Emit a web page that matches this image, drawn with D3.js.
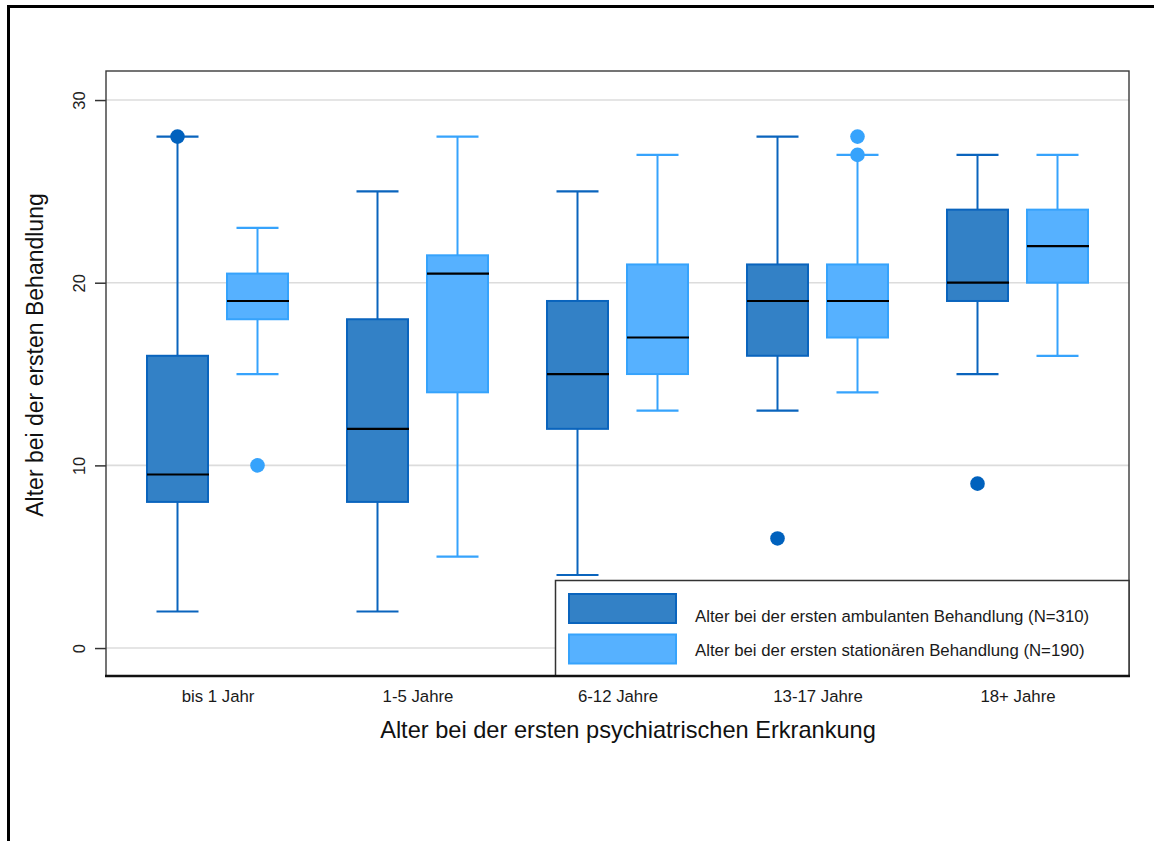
<!DOCTYPE html>
<html><head><meta charset="utf-8">
<script src="https://cdn.jsdelivr.net/npm/d3@7"></script>
<style>body{margin:0;background:#fff;}svg{display:block;font-family:"Liberation Sans",Arial,sans-serif;}</style>
</head><body>
<svg id="chart" width="1154" height="841"></svg>
<script>
const categories = ["bis 1 Jahr","1-5 Jahre","6-12 Jahre","13-17 Jahre","18+ Jahre"];
const seriesNames = ["Alter bei der ersten ambulanten Behandlung (N=310)","Alter bei der ersten stationären Behandlung (N=190)"];
// ambulant (dark)
const ambLow    = [2, 2, 4, 13, 15];
const ambQ1     = [8, 8, 12, 16, 19];
const ambMedian = [9.5, 12, 15, 19, 20];
const ambQ3     = [16, 18, 19, 21, 24];
const ambHigh   = [28, 25, 25, 28, 27];
const ambOutliers = [[28], [], [], [6], [9]];
// stationär (light)
const staLow    = [15, 5, 13, 14, 16];
const staQ1     = [18, 14, 15, 17, 20];
const staMedian = [19, 20.5, 17, 19, 22];
const staQ3     = [20.5, 21.5, 21, 21, 24];
const staHigh   = [23, 28, 27, 27, 27];
const staOutliers = [[10], [], [], [27, 28], []];
const yTicks = [0, 10, 20, 30];

const fills   = ["#3381c6", "#56b1ff"];
const strokes = ["#0a64bd", "#36a3fc"];
const dots    = ["#0061bd", "#36a3fc"];

const svg = d3.select("#chart");
const L = 106, R = 1129, T = 71, B = 676;

const x = d3.scalePoint().domain(categories).range([L, R]).padding(0.5575);
const y = d3.scaleLinear().domain([-1.53, 31.59]).range([B, T]);

// outer frame
svg.append("rect").attr("x", 8.5).attr("y", 6.5).attr("width", 1200).attr("height", 900)
  .attr("fill", "none").attr("stroke", "#000").attr("stroke-width", 3);

// gridlines
svg.append("g").selectAll("line").data(yTicks).join("line")
  .attr("x1", L).attr("x2", R).attr("y1", d => y(d)).attr("y2", d => y(d))
  .attr("stroke", "#dcdcdc").attr("stroke-width", 1.6);

// y axis
const yAxis = svg.append("g").attr("transform", `translate(${L},0)`)
  .call(d3.axisLeft(y).tickValues(yTicks).tickSize(11).tickPadding(14));
yAxis.select(".domain").remove();
yAxis.selectAll(".tick line").attr("stroke", "#333").attr("stroke-width", 1.5);
yAxis.selectAll(".tick text").attr("font-size", 16.5).attr("fill", "#222")
  .attr("x", 0).attr("y", 0).attr("dy", 0)
  .attr("text-anchor", "middle")
  .attr("transform", "translate(-21,0) rotate(-90)");

// x axis labels
const xAxis = svg.append("g").attr("transform", `translate(0,${B})`)
  .call(d3.axisBottom(x).tickSize(0).tickPadding(14));
xAxis.select(".domain").remove();
xAxis.selectAll(".tick text").attr("font-size", 16.8).attr("fill", "#1a1a1a").attr("dy", "0.71em");

const off = 40, bw = 61, cw = 42;
const series = [
  {low: ambLow, q1: ambQ1, med: ambMedian, q3: ambQ3, high: ambHigh, out: ambOutliers, dx: -off},
  {low: staLow, q1: staQ1, med: staMedian, q3: staQ3, high: staHigh, out: staOutliers, dx: off}
];

series.forEach((s, si) => {
  const g = svg.append("g");
  categories.forEach((c, i) => {
    const cx = x(c) + s.dx;
    g.append("line").attr("x1", cx).attr("x2", cx).attr("y1", y(s.q3[i])).attr("y2", y(s.high[i]))
      .attr("stroke", strokes[si]).attr("stroke-width", 2);
    g.append("line").attr("x1", cx).attr("x2", cx).attr("y1", y(s.q1[i])).attr("y2", y(s.low[i]))
      .attr("stroke", strokes[si]).attr("stroke-width", 2);
    g.append("line").attr("x1", cx - cw/2).attr("x2", cx + cw/2).attr("y1", y(s.high[i])).attr("y2", y(s.high[i]))
      .attr("stroke", strokes[si]).attr("stroke-width", 2.2);
    g.append("line").attr("x1", cx - cw/2).attr("x2", cx + cw/2).attr("y1", y(s.low[i])).attr("y2", y(s.low[i]))
      .attr("stroke", strokes[si]).attr("stroke-width", 2.2);
    g.append("rect").attr("x", cx - bw/2).attr("y", y(s.q3[i])).attr("width", bw).attr("height", y(s.q1[i]) - y(s.q3[i]))
      .attr("fill", fills[si]).attr("stroke", strokes[si]).attr("stroke-width", 2);
    g.append("line").attr("x1", cx - bw/2).attr("x2", cx + bw/2 + 1).attr("y1", y(s.med[i])).attr("y2", y(s.med[i]))
      .attr("stroke", "#000").attr("stroke-width", 2.2);
    s.out[i].forEach(v => {
      g.append("circle").attr("cx", cx).attr("cy", y(v)).attr("r", 7.3).attr("fill", dots[si]);
    });
  });
});

// plot frame
svg.append("rect").attr("x", L).attr("y", T).attr("width", R - L).attr("height", B - T)
  .attr("fill", "none").attr("stroke", "#3a3a3a").attr("stroke-width", 1.4);

// legend
const lg = svg.append("g");
lg.append("rect").attr("x", 555.5).attr("y", 580.5).attr("width", R - 555.5).attr("height", B - 580.5)
  .attr("fill", "#fff").attr("stroke", "#333").attr("stroke-width", 1.5);
seriesNames.forEach((n, i) => {
  const sy = [594, 634.5][i];
  lg.append("rect").attr("x", 569).attr("y", sy).attr("width", 107).attr("height", 29)
    .attr("fill", fills[i]).attr("stroke", strokes[i]).attr("stroke-width", 2);
  lg.append("text").attr("x", 695).attr("y", [622, 655.5][i]).attr("font-size", 16.8)
    .attr("fill", "#1a1a1a").text(n);
});
// bottom axis line above legend
svg.append("line").attr("x1", L - 1).attr("x2", R + 1).attr("y1", B).attr("y2", B)
  .attr("stroke", "#111").attr("stroke-width", 2.4);

// titles
svg.append("text").attr("x", 628).attr("y", 738).attr("text-anchor", "middle")
  .attr("font-size", 23.6).attr("fill", "#111").text("Alter bei der ersten psychiatrischen Erkrankung");
svg.append("text").attr("transform", "translate(43,355) rotate(-90)").attr("text-anchor", "middle")
  .attr("font-size", 23).attr("fill", "#111").text("Alter bei der ersten Behandlung");
</script>
</body></html>
